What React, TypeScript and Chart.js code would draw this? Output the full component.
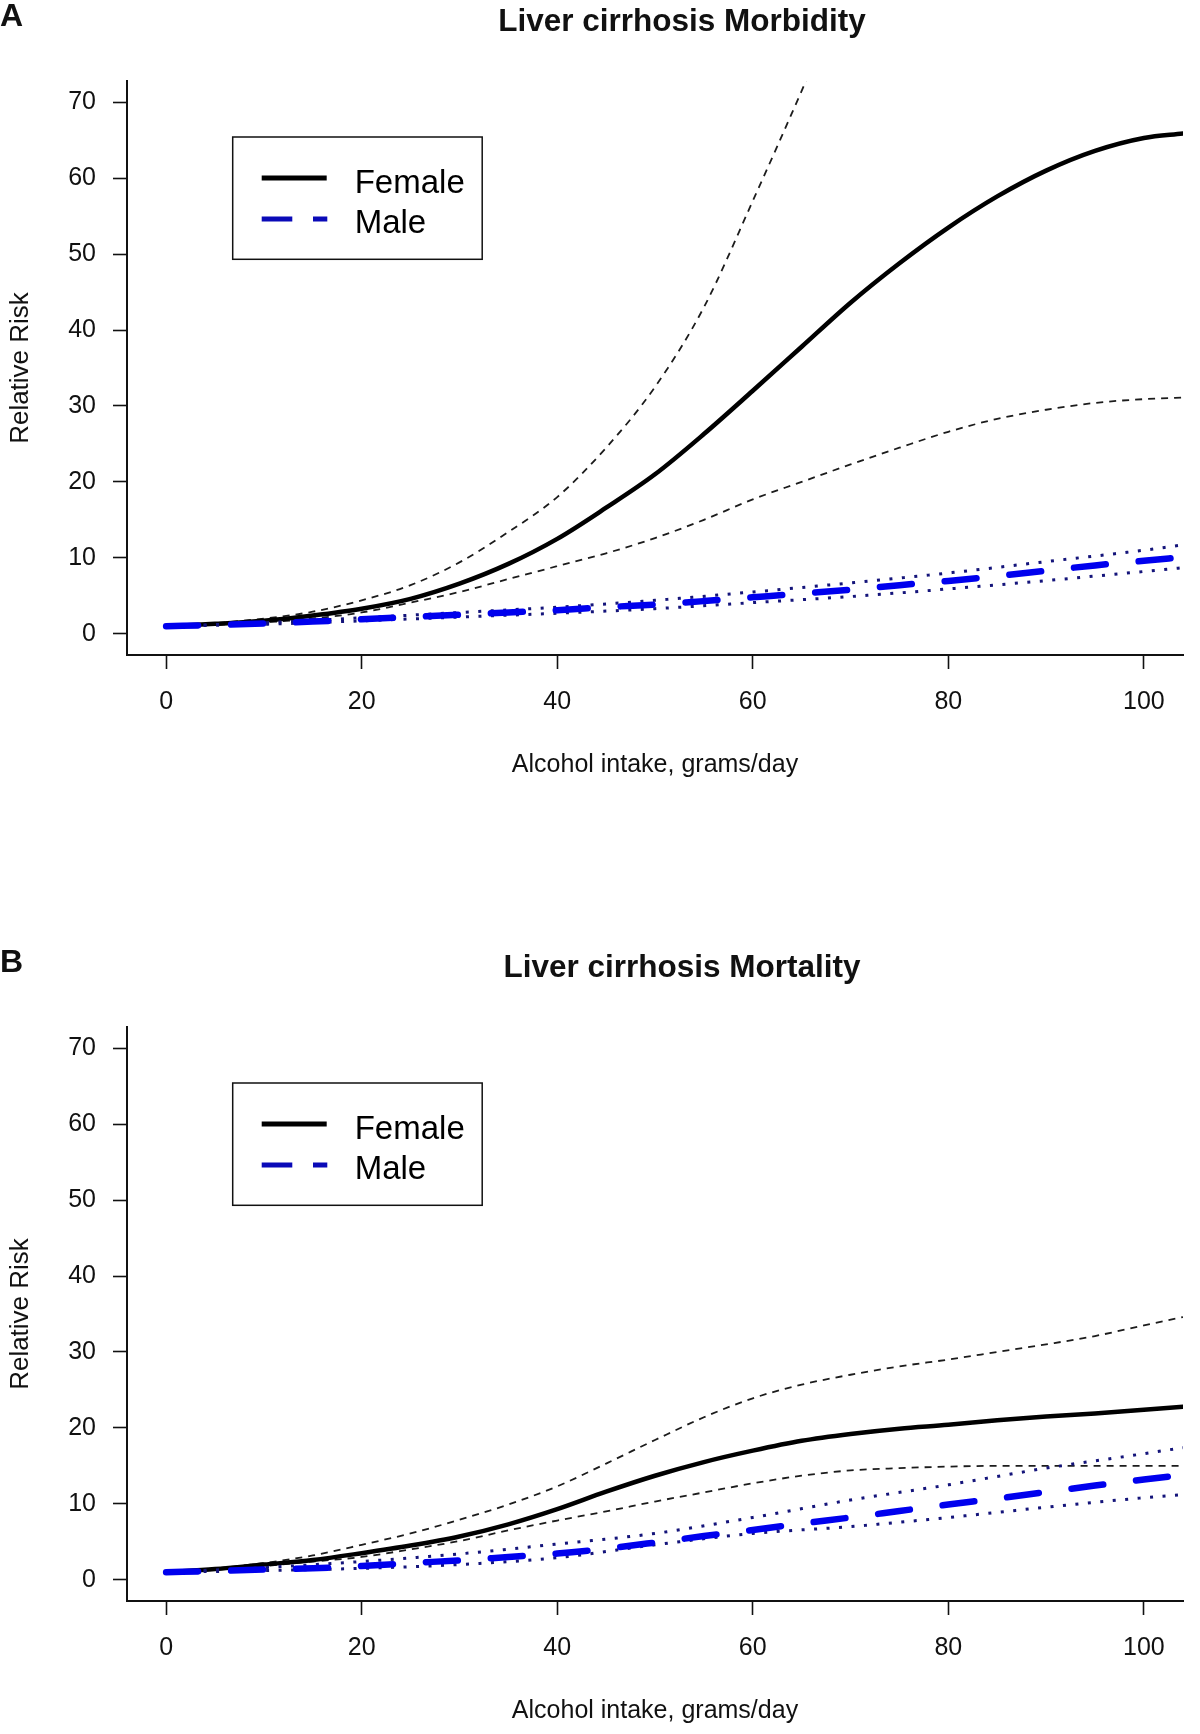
import React, { useEffect, useRef } from "react";
import { Chart, registerables } from "chart.js";

Chart.register(...registerables);

const FONT = "'Liberation Sans', Arial, Helvetica, sans-serif";

// ---- axes ----
const X_TICKS = [0, 20, 40, 60, 80, 100];
const Y_TICKS = [0, 10, 20, 30, 40, 50, 60, 70];
const X_LIMITS = [-4, 104];
const Y_LIMITS = [-2.8, 72.8];
const X_TITLE = "Alcohol intake, grams/day";
const Y_TITLE = "Relative Risk";
const SERIES_NAMES = ["Female", "Male"];

// ---- x positions (alcohol intake, g/day) ----
const DOSE = [0, 5, 10, 15, 20, 25, 30, 35, 40, 45, 50, 55, 60, 65, 70, 75, 80, 85, 90, 95, 100, 104];
const DOSE_MALE_CI = [0, 10, 20, 30, 40, 50, 60, 70, 80, 90, 100, 104];
const DOSE_A_FEMALE_UPPER = [0, 5, 10, 15, 20, 25, 30, 35, 40, 45, 50, 55, 60, 65, 68];

// ---- Panel A: Liver cirrhosis Morbidity ----
const A_FEMALE = [1.0, 1.3, 1.7, 2.4, 3.3, 4.6, 6.6, 9.2, 12.5, 16.6, 21.0, 26.3, 32.0, 37.8, 43.6, 48.8, 53.5, 57.6, 61.0, 63.6, 65.3, 65.9];
const A_FEMALE_UPPER = [1.0, 1.4, 2.0, 2.9, 4.4, 6.4, 9.4, 13.4, 18.0, 24.5, 32.5, 43.0, 57.0, 71.5, 80.5];
const A_FEMALE_LOWER = [1.0, 1.2, 1.5, 2.0, 2.8, 4.1, 5.5, 7.2, 8.9, 10.6, 12.6, 15.0, 17.7, 20.0, 22.3, 24.5, 26.6, 28.3, 29.5, 30.4, 30.9, 31.1];
const A_MALE = [1.0, 1.15, 1.35, 1.6, 1.9, 2.2, 2.5, 2.8, 3.1, 3.5, 3.85, 4.3, 4.8, 5.3, 5.8, 6.4, 6.95, 7.6, 8.3, 9.0, 9.6, 10.1];
const A_MALE_UPPER = [1.0, 1.45, 2.1, 2.8, 3.5, 4.4, 5.5, 6.7, 8.0, 9.5, 11.0, 11.7];
const A_MALE_LOWER = [1.0, 1.25, 1.7, 2.2, 2.7, 3.3, 4.1, 4.9, 5.9, 7.0, 8.2, 8.7];

// ---- Panel B: Liver cirrhosis Mortality ----
const B_FEMALE = [1.0, 1.4, 2.0, 2.6, 3.5, 4.5, 5.7, 7.3, 9.3, 11.6, 13.7, 15.5, 17.0, 18.3, 19.2, 19.9, 20.4, 21.0, 21.5, 21.9, 22.4, 22.8];
const B_FEMALE_UPPER = [1.0, 1.5, 2.2, 3.2, 4.6, 6.1, 7.9, 9.9, 12.3, 15.3, 18.4, 21.4, 23.9, 25.7, 27.0, 28.1, 29.0, 30.0, 31.0, 32.1, 33.5, 34.6];
const B_FEMALE_LOWER = [1.0, 1.3, 1.8, 2.4, 3.0, 4.0, 5.1, 6.5, 7.8, 9.0, 10.3, 11.5, 12.7, 13.7, 14.4, 14.7, 14.9, 15.0, 15.0, 15.0, 15.0, 15.0];
const B_MALE = [1.0, 1.15, 1.35, 1.5, 1.8, 2.2, 2.55, 3.0, 3.45, 4.1, 4.9, 5.75, 6.55, 7.4, 8.2, 9.05, 9.9, 10.7, 11.55, 12.4, 13.2, 13.8];
const B_MALE_UPPER = [1.0, 1.6, 2.4, 3.4, 4.7, 6.1, 8.2, 10.5, 12.5, 14.7, 16.6, 17.4];
const B_MALE_LOWER = [1.0, 1.2, 1.5, 2.0, 2.9, 4.6, 6.1, 7.0, 8.2, 9.55, 10.8, 11.2];

const FEMALE_COLOR = "#000000";
const FEMALE_CI_COLOR = "#1c1c1c";
const MALE_COLOR = "#0000ee";
const MALE_LEGEND_COLOR = "#0a0ab8";
const MALE_CI_COLOR = "#14147a";
const TEXT_COLOR = "#111111";

const pts = (xs: number[], ys: number[]) => xs.map((x, i) => ({ x, y: ys[i] }));

type PanelProps = {
  letter: string;
  title: string;
  female: number[];
  femaleUpperX: number[];
  femaleUpper: number[];
  femaleLower: number[];
  male: number[];
  maleUpper: number[];
  maleLower: number[];
  top: number;
};

const W = 1200;
const H = 788;

function Panel(p: PanelProps) {
  const ref = useRef<HTMLCanvasElement | null>(null);

  useEffect(() => {
    if (!ref.current) return;

    const overlay = {
      id: "overlay",
      afterDraw(chart: any) {
        const ctx = chart.ctx as CanvasRenderingContext2D;
        const a = chart.chartArea;
        ctx.save();
        // panel letter
        ctx.fillStyle = TEXT_COLOR;
        ctx.font = `bold 32px ${FONT}`;
        ctx.textAlign = "left";
        ctx.textBaseline = "alphabetic";
        ctx.fillText(p.letter, 0, 26);
        // main title
        ctx.font = `bold 31.5px ${FONT}`;
        ctx.textAlign = "center";
        ctx.fillText(p.title, 682, 31);

        // legend box
        const bx = a.left + 105.7;
        const by = a.top + 56;
        ctx.strokeStyle = "#111";
        ctx.lineWidth = 1.5;
        ctx.strokeRect(bx, by, 249.5, 122.3);

        // Female sample
        ctx.lineCap = "butt";
        ctx.setLineDash([]);
        ctx.strokeStyle = FEMALE_COLOR;
        ctx.lineWidth = 5;
        ctx.beginPath();
        ctx.moveTo(bx + 29, by + 41);
        ctx.lineTo(bx + 94, by + 41);
        ctx.stroke();
        // Male sample
        ctx.strokeStyle = MALE_LEGEND_COLOR;
        ctx.setLineDash([30.6, 20.7]);
        ctx.beginPath();
        ctx.moveTo(bx + 29, by + 82);
        ctx.lineTo(bx + 94.6, by + 82);
        ctx.stroke();
        ctx.setLineDash([]);

        ctx.fillStyle = "#000";
        ctx.font = `33px ${FONT}`;
        ctx.textAlign = "left";
        ctx.textBaseline = "alphabetic";
        ctx.fillText(SERIES_NAMES[0], bx + 122, by + 55.7);
        ctx.fillText(SERIES_NAMES[1], bx + 122, by + 95.7);
        ctx.restore();
      },
    };

    const line = (data: any[], color: string, width: number, dash: number[], order: number, cap: CanvasLineCap = "butt") => ({
      data,
      borderColor: color,
      backgroundColor: color,
      borderWidth: width,
      borderDash: dash,
      borderCapStyle: cap,
      pointRadius: 0,
      pointHoverRadius: 0,
      fill: false,
      cubicInterpolationMode: "monotone" as const,
      order,
    });

    const chart = new Chart(ref.current, {
      type: "line",
      data: {
        datasets: [
          { label: SERIES_NAMES[1], ...line(pts(DOSE, p.male), MALE_COLOR, 6.5, [32, 33], 0, "round") },
          { label: "Male upper", ...line(pts(DOSE_MALE_CI, p.maleUpper), MALE_CI_COLOR, 3, [3, 9.5], 1) },
          { label: "Male lower", ...line(pts(DOSE_MALE_CI, p.maleLower), MALE_CI_COLOR, 3, [3, 9.5], 1) },
          { label: SERIES_NAMES[0], ...line(pts(DOSE, p.female), FEMALE_COLOR, 4.5, [], 2, "round") },
          { label: "Female upper", ...line(pts(p.femaleUpperX, p.femaleUpper), FEMALE_CI_COLOR, 1.8, [7, 6], 3) },
          { label: "Female lower", ...line(pts(DOSE, p.femaleLower), FEMALE_CI_COLOR, 1.8, [7, 6], 3) },
        ],
      },
      options: {
        responsive: false,
        animation: false,
        events: [],
        layout: { padding: { top: 81, right: 17, left: 0, bottom: 0 } },
        plugins: {
          legend: { display: false },
          title: { display: false },
          tooltip: { enabled: false },
        },
        scales: {
          x: {
            type: "linear",
            min: X_LIMITS[0],
            max: X_LIMITS[1],
            afterBuildTicks: (s: any) => {
              s.ticks = X_TICKS.map((v) => ({ value: v }));
            },
            afterFit: (s: any) => {
              s.height = H - 655;
            },
            grid: {
              display: true,
              drawOnChartArea: false,
              drawTicks: true,
              tickLength: 14,
              tickWidth: 1.6,
              tickColor: "#111",
            },
            border: { display: true, color: "#111", width: 2 },
            ticks: {
              color: TEXT_COLOR,
              font: { family: FONT, size: 25 },
              padding: 18,
              maxRotation: 0,
              autoSkip: false,
            },
            title: {
              display: true,
              text: X_TITLE,
              color: TEXT_COLOR,
              font: { family: FONT, size: 25 },
              padding: { top: 0, bottom: 8 },
            },
          },
          y: {
            type: "linear",
            min: Y_LIMITS[0],
            max: Y_LIMITS[1],
            afterBuildTicks: (s: any) => {
              s.ticks = Y_TICKS.map((v) => ({ value: v }));
            },
            afterFit: (s: any) => {
              s.width = 127;
            },
            grid: {
              display: true,
              drawOnChartArea: false,
              drawTicks: true,
              tickLength: 14,
              tickWidth: 1.6,
              tickColor: "#111",
            },
            border: { display: true, color: "#111", width: 2 },
            ticks: {
              color: TEXT_COLOR,
              font: { family: FONT, size: 25 },
              padding: 17,
              autoSkip: false,
            },
            title: {
              display: true,
              text: Y_TITLE,
              color: TEXT_COLOR,
              font: { family: FONT, size: 26 },
              padding: { top: 5, bottom: 0 },
            },
          },
        },
      },
      plugins: [overlay],
    });

    return () => chart.destroy();
  }, [p]);

  return (
    <canvas
      ref={ref}
      width={W}
      height={H}
      style={{ position: "absolute", left: 0, top: p.top, width: W, height: H, display: "block" }}
    />
  );
}

const PANEL_A: PanelProps = {
  letter: "A",
  title: "Liver cirrhosis Morbidity",
  female: A_FEMALE,
  femaleUpperX: DOSE_A_FEMALE_UPPER,
  femaleUpper: A_FEMALE_UPPER,
  femaleLower: A_FEMALE_LOWER,
  male: A_MALE,
  maleUpper: A_MALE_UPPER,
  maleLower: A_MALE_LOWER,
  top: 0,
};

const PANEL_B: PanelProps = {
  letter: "B",
  title: "Liver cirrhosis Mortality",
  female: B_FEMALE,
  femaleUpperX: DOSE,
  femaleUpper: B_FEMALE_UPPER,
  femaleLower: B_FEMALE_LOWER,
  male: B_MALE,
  maleUpper: B_MALE_UPPER,
  maleLower: B_MALE_LOWER,
  top: 946,
};

export default function App() {
  return (
    <div style={{ position: "absolute", left: 0, top: 0, width: 1200, height: 1734, background: "#fff" }}>
      <Panel {...PANEL_A} />
      <Panel {...PANEL_B} />
    </div>
  );
}
